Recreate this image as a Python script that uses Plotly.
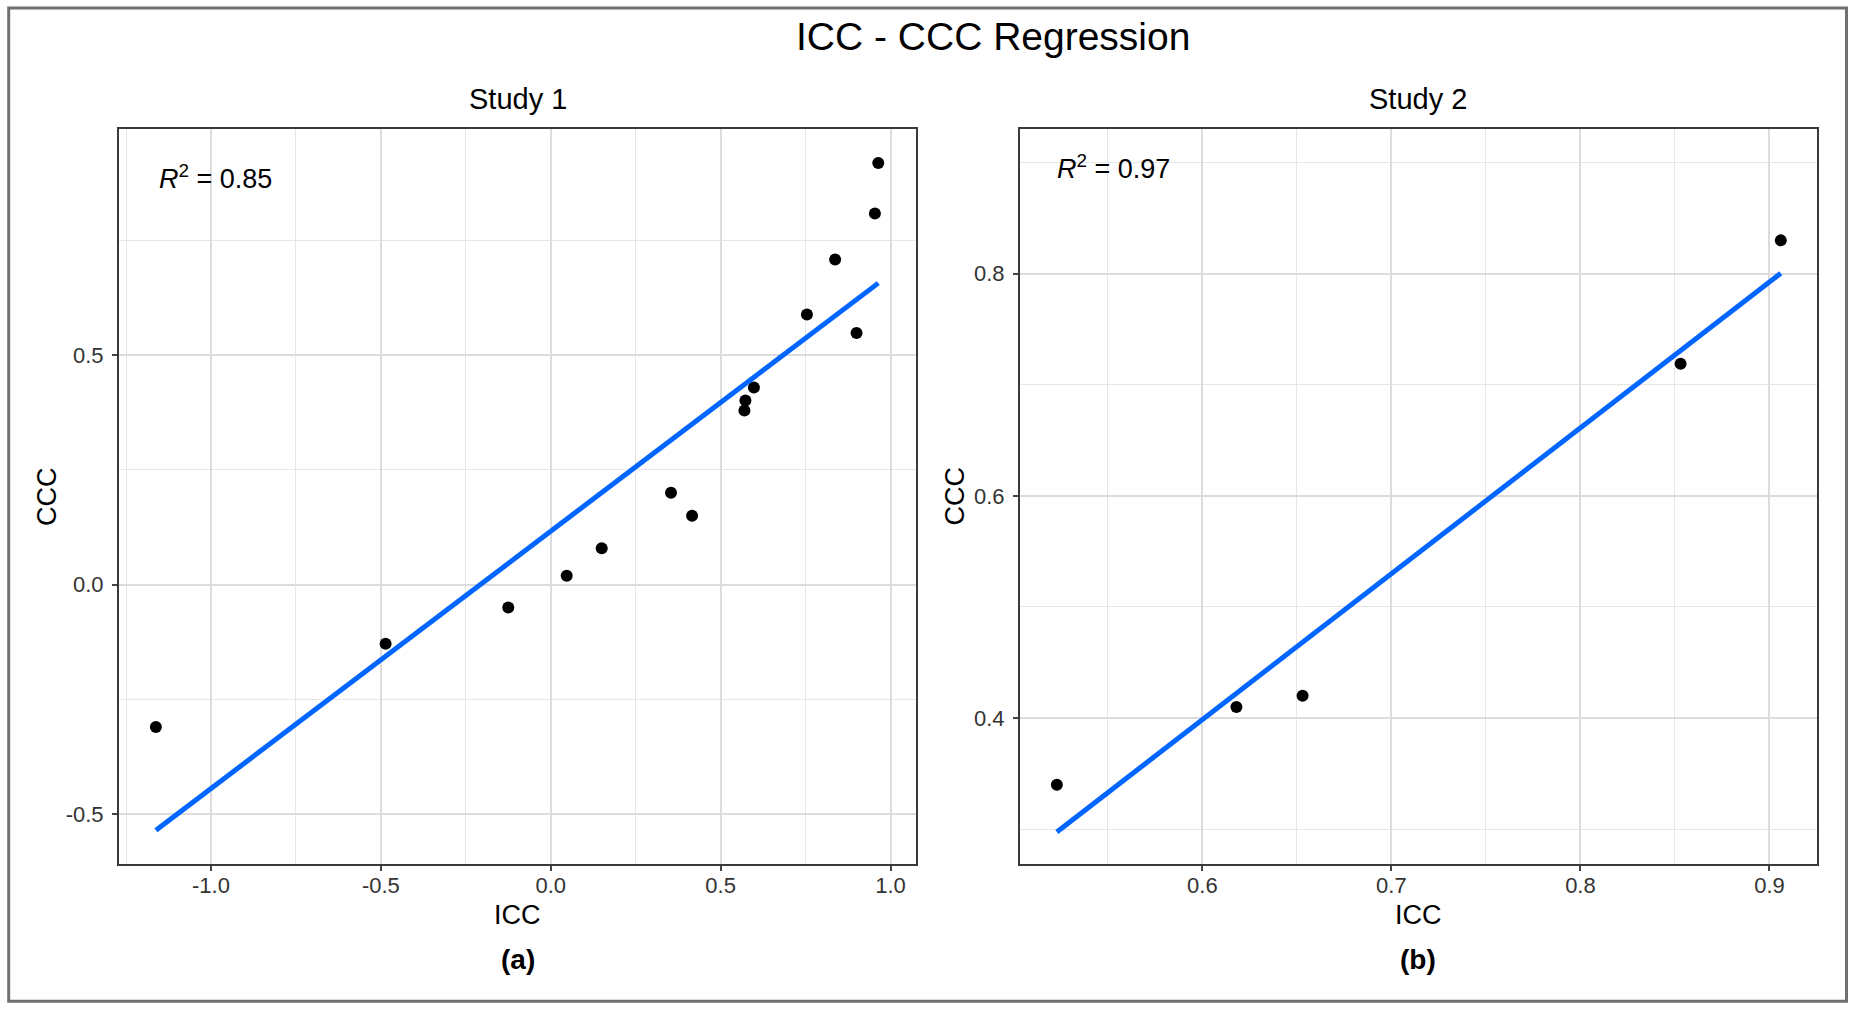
import numpy as np
import plotly.graph_objects as go

# values (ICC on x, CCC on y)
study1_icc = [-1.162, -0.486, -0.125, 0.047, 0.150, 0.354, 0.416, 0.570,
              0.573, 0.598, 0.754, 0.837, 0.900, 0.954, 0.964]
study1_ccc = [-0.310, -0.129, -0.050, 0.019, 0.079, 0.200, 0.150, 0.379,
              0.401, 0.429, 0.588, 0.708, 0.548, 0.808, 0.918]

study2_icc = [0.523, 0.618, 0.653, 0.853, 0.906]
study2_ccc = [0.340, 0.410, 0.420, 0.719, 0.830]

r2_text = ["0.85", "0.97"]
panel_titles = ["Study 1", "Study 2"]
panel_tags = ["(a)", "(b)"]

study1_xticks = [-1.0, -0.5, 0.0, 0.5, 1.0]
study1_yticks = [-0.5, 0.0, 0.5]
study2_xticks = [0.6, 0.7, 0.8, 0.9]
study2_yticks = [0.4, 0.6, 0.8]

FONT = "Liberation Sans, Arial, sans-serif"
W, H = 1855, 1013
LINE_BLUE = "#0066FF"


def px(x, y):
    """pixel position on the page -> paper coordinates"""
    return x / W, 1 - y / H


def fit_line(xs, ys):
    slope, intercept = np.polyfit(xs, ys, 1)
    x_line = np.array([min(xs), max(xs)])
    return x_line, slope * x_line + intercept


def axis_style(ticks, domain, rng, minor_step, standoff):
    return dict(
        domain=domain,
        range=rng,
        tickvals=ticks,
        ticktext=["%.1f" % t for t in ticks],
        showline=True,
        linecolor="#3a3a3a",
        linewidth=2,
        mirror=True,
        ticks="outside",
        ticklen=5,
        tickwidth=1.5,
        tickcolor="#444444",
        ticklabelstandoff=standoff,
        tickfont=dict(family=FONT, size=22, color="#333333"),
        showgrid=True,
        gridcolor="#dcdcdc",
        gridwidth=1.5,
        zeroline=False,
        minor=dict(
            tick0=0,
            dtick=minor_step,
            showgrid=True,
            gridcolor="#e6e6e6",
            gridwidth=1,
            ticks="",
        ),
    )


fig = go.Figure()

studies = [
    (study1_icc, study1_ccc, "x", "y"),
    (study2_icc, study2_ccc, "x2", "y2"),
]
for icc, ccc, xa, ya in studies:
    fig.add_trace(
        go.Scatter(
            x=icc,
            y=ccc,
            mode="markers",
            marker=dict(color="black", size=12),
            xaxis=xa,
            yaxis=ya,
            showlegend=False,
        )
    )
    x_line, y_line = fit_line(icc, ccc)
    fig.add_trace(
        go.Scatter(
            x=x_line,
            y=y_line,
            mode="lines",
            line=dict(color=LINE_BLUE, width=5),
            xaxis=xa,
            yaxis=ya,
            showlegend=False,
        )
    )

y_dom = [px(0, 863.5)[1], px(0, 129.3)[1]]
fig.update_layout(
    xaxis=axis_style(study1_xticks, [119 / W, 916 / W], [-1.2706, 1.075], 0.25, -4),
    yaxis=axis_style(study1_yticks, y_dom, [-0.6074, 0.9914], 0.25, 4),
    xaxis2=axis_style(study2_xticks, [1020 / W, 1816.7 / W], [0.5035, 0.925], 0.05, -4),
    yaxis2=axis_style(study2_yticks, y_dom, [0.269, 0.930], 0.1, 4),
)
fig.update_layout(yaxis_anchor="x", yaxis2_anchor="x2", xaxis2_anchor="y2")

# all the text is placed by hand so the layout matches the ggplot figure
notes = []


def add_text(x, y, text, size, **kw):
    xp, yp = px(x, y)
    d = dict(
        x=xp,
        y=yp,
        xref="paper",
        yref="paper",
        text=text,
        showarrow=False,
        xanchor="center",
        yanchor="middle",
        font=dict(family=FONT, size=size, color="black"),
    )
    d.update(kw)
    notes.append(d)


add_text(993, 37, "ICC - CCC Regression", 39)

centers = [517.5, 1418.4]
ylab_x = [47.5, 955]
r2_pos = [(157, 176.5), (1055, 166.7)]
for i in range(2):
    add_text(centers[i], 98.5, panel_titles[i], 29)
    add_text(centers[i], 915, "ICC", 27)
    add_text(centers[i], 959, "<b>%s</b>" % panel_tags[i], 28)
    add_text(ylab_x[i], 496.4, "CCC", 27, textangle=-90)
    add_text(r2_pos[i][0], r2_pos[i][1],
             "<i>R</i><sup>2</sup> = " + r2_text[i], 27, xanchor="left")

fig.update_layout(
    annotations=notes,
    width=W,
    height=H,
    margin=dict(l=0, r=0, t=0, b=0),
    paper_bgcolor="white",
    plot_bgcolor="white",
    # grey frame around the whole figure
    shapes=[
        dict(
            type="rect",
            xref="paper",
            yref="paper",
            x0=8.7 / W,
            x1=1846.5 / W,
            y0=1 - 1001.3 / H,
            y1=1 - 8 / H,
            line=dict(color="#707070", width=3),
        )
    ],
)

# the page body has an 8px margin by default, drop it so the figure sits at 0,0
fig.write_html(
    "out.html",
    config={"displayModeBar": False},
    post_script="document.body.style.margin = '0';",
)
